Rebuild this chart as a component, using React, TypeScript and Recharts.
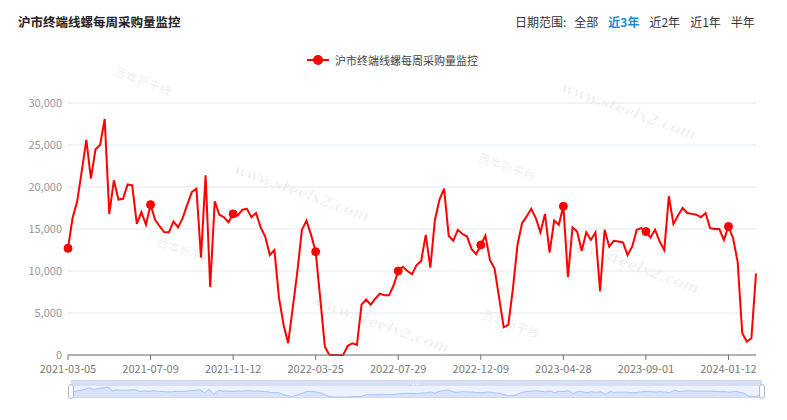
import { LineChart, Line, XAxis, YAxis, CartesianGrid, AreaChart, Area } from "recharts";

// weekly purchase volume, Shanghai terminal rebar/wire
const weeks = [
  "2021-03-05", "2021-03-12", "2021-03-19", "2021-03-26", "2021-04-02", "2021-04-09", "2021-04-16", "2021-04-23", "2021-04-30",
  "2021-05-07", "2021-05-14", "2021-05-21", "2021-05-28", "2021-06-04", "2021-06-11", "2021-06-18", "2021-06-25", "2021-07-02",
  "2021-07-09", "2021-07-16", "2021-07-23", "2021-07-30", "2021-08-06", "2021-08-13", "2021-08-20", "2021-08-27", "2021-09-03",
  "2021-09-10", "2021-09-17", "2021-09-24", "2021-10-01", "2021-10-08", "2021-10-15", "2021-10-22", "2021-10-29", "2021-11-05",
  "2021-11-12", "2021-11-19", "2021-11-26", "2021-12-03", "2021-12-10", "2021-12-17", "2021-12-24", "2021-12-31", "2022-01-07",
  "2022-01-14", "2022-01-21", "2022-01-28", "2022-02-11", "2022-02-18", "2022-02-25", "2022-03-04", "2022-03-11", "2022-03-18",
  "2022-03-25", "2022-04-01", "2022-04-08", "2022-04-15", "2022-04-22", "2022-04-29", "2022-05-06", "2022-05-13", "2022-05-20",
  "2022-05-27", "2022-06-03", "2022-06-10", "2022-06-17", "2022-06-24", "2022-07-01", "2022-07-08", "2022-07-15", "2022-07-22",
  "2022-07-29", "2022-08-05", "2022-08-12", "2022-08-19", "2022-08-26", "2022-09-02", "2022-09-09", "2022-09-16", "2022-09-23",
  "2022-09-30", "2022-10-14", "2022-10-21", "2022-10-28", "2022-11-04", "2022-11-11", "2022-11-18", "2022-11-25", "2022-12-02",
  "2022-12-09", "2022-12-16", "2022-12-23", "2022-12-30", "2023-01-06", "2023-01-13", "2023-02-03", "2023-02-10", "2023-02-17",
  "2023-02-24", "2023-03-03", "2023-03-10", "2023-03-17", "2023-03-24", "2023-03-31", "2023-04-07", "2023-04-14", "2023-04-21",
  "2023-04-28", "2023-05-05", "2023-05-12", "2023-05-19", "2023-05-26", "2023-06-02", "2023-06-09", "2023-06-16", "2023-06-23",
  "2023-06-30", "2023-07-07", "2023-07-14", "2023-07-21", "2023-07-28", "2023-08-04", "2023-08-11", "2023-08-18", "2023-08-25",
  "2023-09-01", "2023-09-08", "2023-09-15", "2023-09-22", "2023-09-29", "2023-10-13", "2023-10-20", "2023-10-27", "2023-11-03",
  "2023-11-10", "2023-11-17", "2023-11-24", "2023-12-01", "2023-12-08", "2023-12-15", "2023-12-22", "2023-12-29", "2024-01-05",
  "2024-01-12", "2024-01-19", "2024-01-26", "2024-02-02", "2024-02-08", "2024-02-23", "2024-03-01",
];

const purchases = [
  12700, 16300, 18300, 21900, 25600, 21000, 24500, 25000, 28100,
  16800, 20800, 18500, 18600, 20300, 20200, 15600, 17000, 15500,
  17900, 16100, 15300, 14600, 14600, 15900, 15200, 16300, 17900,
  19400, 19800, 11600, 21400, 8100, 18300, 16700, 16400, 15800,
  16800, 16600, 17300, 17400, 16400, 16900, 15200, 14100, 11900,
  12500, 6800, 3600, 1400, 5600, 9900, 14900, 16000, 14300,
  12300, 6700, 1000, 0, 0, 0, 0, 1100, 1400,
  1200, 6000, 6600, 6000, 6700, 7300, 7100, 7100, 8300,
  10000, 10500, 10000, 9600, 10700, 11200, 14300, 10400, 16100,
  18500, 19800, 14200, 13600, 14900, 14400, 14100, 12600, 12000,
  13100, 14200, 11300, 10300, 6800, 3300, 3600, 7900, 13100,
  15700, 16500, 17400, 16300, 14600, 16800, 12200, 16000, 15500,
  17700, 9300, 15200, 14700, 12400, 14600, 13700, 14600, 7600,
  14900, 12900, 13600, 13500, 13400, 11900, 12900, 14900, 15100,
  14700, 14000, 14900, 13500, 12500, 18900, 15600, 16600, 17500,
  16900, 16800, 16700, 16400, 16900, 15100, 15000, 15000, 13700,
  15300, 13900, 11100, 2600, 1600, 2000, 9700,
];

const yTicks = [0, 5000, 10000, 15000, 20000, 25000, 30000];
const rangeTabs = ["全部", "近3年", "近2年", "近1年", "半年"];
const activeTab = "近3年";
const seriesName = "沪市终端线螺每周采购量监控";
const labelStep = 18;

const chartData = weeks.map((week, i) => ({ week, value: purchases[i] }));

const FONT = "'Noto Sans CJK SC', 'Microsoft YaHei', sans-serif";
const RED = "#ff0000";

// faint site watermarks behind the plot
const marks = [
  { text: "www.steelx2.com", left: 238, top: 160 },
  { text: "www.steelx2.com", left: 318, top: 292 },
  { text: "www.steelx2.com", left: 568, top: 232 },
  { text: "www.steelx2.com", left: 565, top: 78 },
  { text: "西本新干线", left: 160, top: 232 },
  { text: "西本新干线", left: 482, top: 148 },
  { text: "西本新干线", left: 486, top: 305 },
  { text: "西本新干线", left: 118, top: 62 },
];

// symbol only on every labelled week
const renderDot = (props: any) => {
  const { cx, cy, index } = props;
  if (index % labelStep !== 0) return <g key={`dot-${index}`} />;
  return <circle key={`dot-${index}`} cx={cx} cy={cy} r={4} fill={RED} stroke={RED} />;
};

export default function App() {
  return (
    <div style={{ position: "absolute", left: 0, top: 0, width: 787, height: 420, background: "#fff", fontFamily: FONT, overflow: "hidden" }}>
      <div style={{ position: "absolute", left: 18, top: 13, fontSize: 12.5, fontWeight: 700, color: "#222", lineHeight: "18px" }}>
        {seriesName}
      </div>
      <div style={{ position: "absolute", left: 515, top: 14, fontSize: 12, color: "#333", lineHeight: "16px", display: "flex" }}>
        <span style={{ marginRight: 8 }}>日期范围:</span>
        {rangeTabs.map((t) => (
          <span key={t} style={{ marginRight: 10, color: t === activeTab ? "#1a8ad6" : "#333", fontWeight: t === activeTab ? 700 : 400 }}>
            {t}
          </span>
        ))}
      </div>

      {marks.map((m, i) => (
        <span
          key={i}
          style={{
            position: "absolute",
            left: m.left,
            top: m.top,
            transform: "rotate(20deg)",
            transformOrigin: "left top",
            fontFamily: m.text.startsWith("www") ? "'DejaVu Serif', serif" : FONT,
            fontStyle: m.text.startsWith("www") ? "italic" : "normal",
            fontWeight: 700,
            fontSize: m.text.startsWith("www") ? 15 : 12,
            color: "rgba(0,0,0,0.06)",
            whiteSpace: "nowrap",
          }}
        >
          {m.text}
        </span>
      ))}

      {/* legend */}
      <div style={{ position: "absolute", left: 307, top: 52, display: "flex", alignItems: "center", height: 16 }}>
        <svg width={24} height={16}>
          <line x1={0} y1={8} x2={22} y2={8} stroke={RED} strokeWidth={2} />
          <circle cx={11} cy={8} r={5} fill={RED} />
        </svg>
        <span style={{ marginLeft: 4, fontSize: 11, color: "#444" }}>{seriesName}</span>
      </div>

      <div style={{ position: "absolute", left: 0, top: 0 }}>
        <LineChart width={787} height={376} data={chartData} margin={{ top: 103, right: 31, left: 0, bottom: 0 }}>
          <CartesianGrid vertical={false} stroke="#e0e6f1" />
          <XAxis
            dataKey="week"
            scale="point"
            padding={{ left: 0, right: 0 }}
            interval={labelStep - 1}
            height={21}
            tickSize={5}
            tickMargin={5}
            axisLine={{ stroke: "#6e7079" }}
            tickLine={{ stroke: "#6e7079" }}
            tick={{ fontSize: 11, fill: "#7a7a7a", fontFamily: FONT }}
          />
          <YAxis
            width={68}
            domain={[0, 30000]}
            ticks={yTicks}
            axisLine={false}
            tickLine={false}
            tickSize={6}
            tickMargin={0}
            tickFormatter={(v: number) => v.toLocaleString("en-US")}
            tick={{ fontSize: 11, fill: "#999", fontFamily: FONT }}
          />
          <Line
            type="linear"
            dataKey="value"
            name={seriesName}
            stroke={RED}
            strokeWidth={2}
            dot={renderDot}
            activeDot={false}
            isAnimationActive={false}
          />
        </LineChart>
      </div>

      {/* data zoom slider */}
      <div style={{ position: "absolute", left: 71, top: 380, width: 691, height: 18, border: "1px solid #d2dbee", boxSizing: "border-box", background: "rgba(135,175,255,0.16)" }} />
      <div style={{ position: "absolute", left: 71, top: 380, width: 691, height: 6, background: "rgba(210,219,238,0.8)" }} />
      <div style={{ position: "absolute", left: 413, top: 381, width: 5, height: 4, borderLeft: "1px solid #fff", borderRight: "1px solid #fff", boxSizing: "border-box" }} />
      <div style={{ position: "absolute", left: 71, top: 386 }}>
        <AreaChart width={691} height={12} data={chartData} margin={{ top: 1, right: 0, left: 0, bottom: 1 }}>
          <XAxis dataKey="week" hide scale="point" padding={{ left: 0, right: 0 }} />
          <YAxis hide domain={[0, "dataMax"]} />
          <Area type="linear" dataKey="value" stroke="#9ab7f2" strokeWidth={0.8} fill="#c6d6f7" fillOpacity={0.5} dot={false} activeDot={false} isAnimationActive={false} />
        </AreaChart>
      </div>
      <div style={{ position: "absolute", left: 68, top: 384, width: 6, height: 15, borderRadius: 3, background: "#fff", border: "1px solid #acb8d1", boxSizing: "border-box" }} />
      <div style={{ position: "absolute", left: 759, top: 384, width: 6, height: 15, borderRadius: 3, background: "#fff", border: "1px solid #acb8d1", boxSizing: "border-box" }} />
    </div>
  );
}
